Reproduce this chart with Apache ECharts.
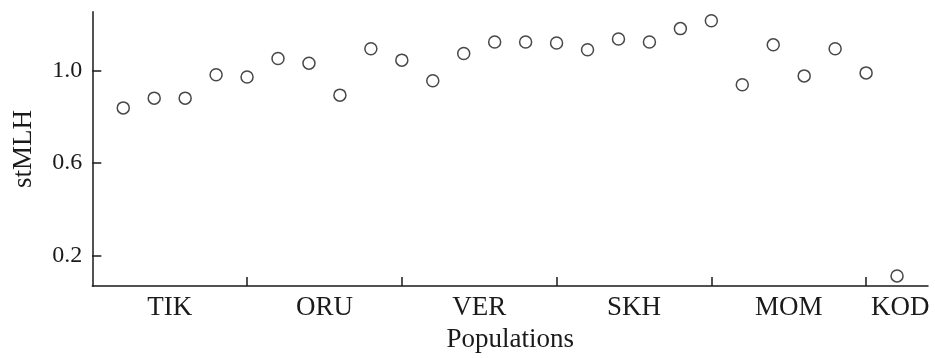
<!DOCTYPE html>
<html>
<head>
<meta charset="utf-8">
<script src="https://cdn.jsdelivr.net/npm/echarts@6/dist/echarts.min.js"></script>
<style>
html,body{margin:0;padding:0;background:#fff;}
#chart{width:935px;height:358px;}
</style>
</head>
<body>
<div id="chart"></div>
<script>
// Data
var sampleIndex = [1,2,3,4,5,6,7,8,9,10,11,12,13,14,15,16,17,18,19,20,21,22,23,24,25,26];
var stMLH = [0.838,0.880,0.880,0.981,0.971,1.051,1.031,0.893,1.093,1.044,0.955,1.073,1.122,1.122,1.118,1.089,1.135,1.122,1.180,1.214,0.938,1.110,0.976,1.093,0.989,0.113];
var populations = ['TIK','ORU','VER','SKH','MOM','KOD'];
var populationCenters = [2.5,7.5,12.5,17.5,22.5,26.1];
var groupBoundaries = [5,10,15,20,25];
var yTicks = [0.2,0.6,1.0];

var chart = echarts.init(document.getElementById('chart'), null, {renderer:'canvas'});
var font = '"Liberation Serif","Times New Roman",serif';
var points = sampleIndex.map(function(x,i){return [x, stMLH[i]];});

chart.setOption({
  animation:false,
  backgroundColor:'#fff',
  grid:{left:92.3, right:7, top:11.7, bottom:65.7},
  xAxis:{
    type:'value', min:0, max:27,
    name:'Populations', nameLocation:'middle', nameGap:38,
    nameTextStyle:{fontFamily:font, fontSize:27, color:'#1a1a1a'},
    axisLine:{lineStyle:{color:'#1a1a1a', width:1.5}},
    axisTick:{show:true, inside:true, length:9, customValues:groupBoundaries, lineStyle:{color:'#1a1a1a', width:1.5}},
    axisLabel:{customValues:populationCenters, margin:8, fontFamily:font, fontSize:27, color:'#1a1a1a',
      formatter:function(v){var k=populationCenters.indexOf(v); return k>=0?populations[k]:'';}},
    splitLine:{show:false}
  },
  yAxis:{
    type:'value', min:0.069, max:1.253,
    name:'stMLH', nameLocation:'middle', nameGap:55,
    nameTextStyle:{fontFamily:font, fontSize:27, color:'#1a1a1a'},
    axisLine:{show:true, lineStyle:{color:'#1a1a1a', width:1.5}},
    axisTick:{show:true, inside:true, length:9, customValues:yTicks, lineStyle:{color:'#1a1a1a', width:1.5}},
    axisLabel:{customValues:yTicks, margin:10, fontFamily:font, fontSize:24, color:'#1a1a1a',
      formatter:function(v){return v.toFixed(1);}},
    splitLine:{show:false}
  },
  series:[{
    type:'scatter',
    data:points,
    symbol:'circle',
    symbolSize:12,
    itemStyle:{color:'#fff', borderColor:'#1a1a1a', borderWidth:1.5}
  }]
});
</script>
</body>
</html>
